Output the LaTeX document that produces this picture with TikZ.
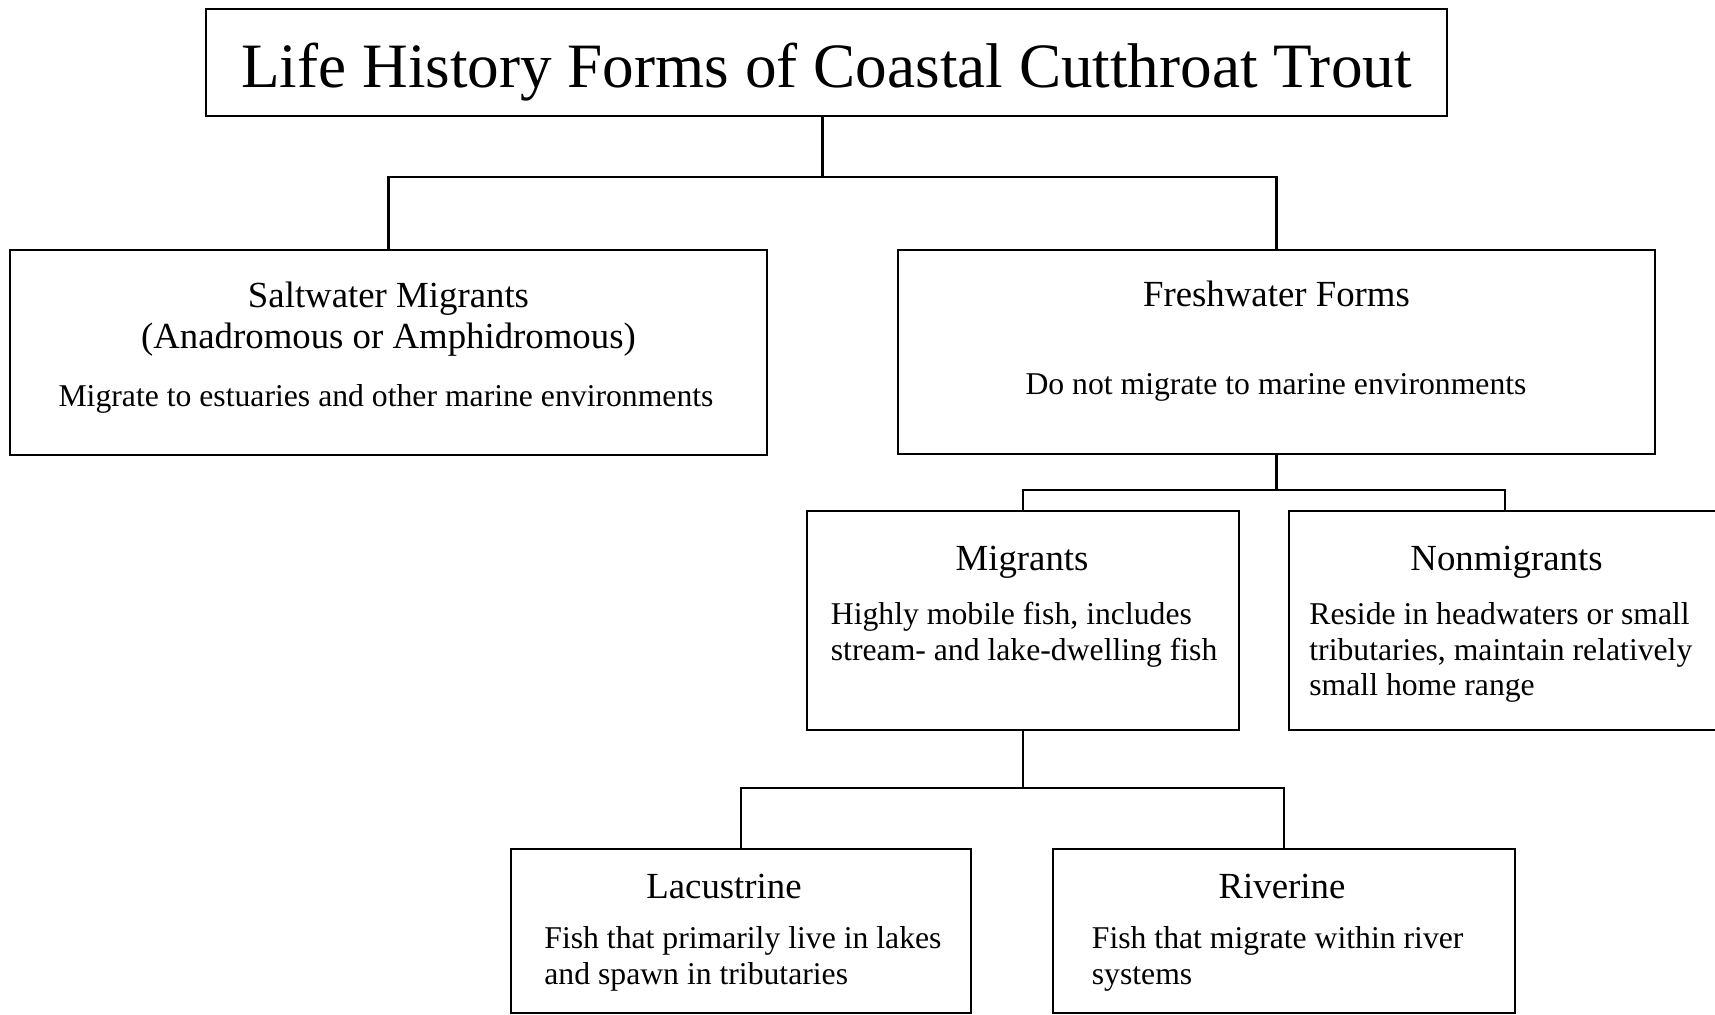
\documentclass[tikz,border=0pt]{standalone}
\usepackage{fontspec}
\setmainfont{Liberation Serif}
\usetikzlibrary{fit}
\tikzset{
  boxnode/.style={draw=black, line width=1.3pt, rectangle, inner sep=0pt},
  conn/.style={draw=black, line width=1.1pt},
  titletext/.style={inner sep=0pt, anchor=base, font=\fontsize{31.6pt}{36pt}\selectfont},
  headtext/.style={inner sep=0pt, anchor=base, font=\fontsize{18.4pt}{21pt}\selectfont},
  bodyc/.style={inner sep=0pt, anchor=base, font=\fontsize{15.85pt}{18pt}\selectfont},
  bodyl/.style={inner sep=0pt, anchor=base west, font=\fontsize{15.85pt}{18pt}\selectfont},
}
\begin{document}
\begin{tikzpicture}[x=0.5pt, y=-0.5pt]
\useasboundingbox (0,0) rectangle (1715,1015);
\fill[white] (0,0) rectangle (1715,1015);
\clip (0,0) rectangle (1715,1015);

% boxes
\node[boxnode, fit={(206,9) (1447,116)}] (title) {};
\node[boxnode, fit={(10,250) (767,455)}] (salt) {};
\node[boxnode, fit={(898,250) (1655,454)}] (fresh) {};
\node[boxnode, fit={(807,511) (1239,730)}] (mig) {};
\node[boxnode, fit={(1289,511) (1721,730)}] (non) {};
\node[boxnode, fit={(511,849) (971,1013)}] (lac) {};
\node[boxnode, fit={(1053,849) (1515,1013)}] (riv) {};

% connectors
\coordinate (j1) at (822.5,177);
\draw[conn] (title.south -| j1) -- (j1);
\draw[conn] (salt.north) |- (j1) -| (fresh.north);
\draw[conn] (fresh.south) -- ++(0,35) coordinate (j2);
\draw[conn] (mig.north) |- (j2) -| (non.north);
\draw[conn] (mig.south) -- ++(0,57) coordinate (j3);
\draw[conn] (lac.north) |- (j3) -| (riv.north);

% texts
\node[titletext] (t0) at (826.5,87.5) {Life History Forms of Coastal Cutthroat Trout};

\node[headtext] (s1) at (388.5,307.5) {Saltwater Migrants};
\node[headtext] (s2) at (388.5,348.5) {(Anadromous or Amphidromous)};
\node[bodyc] (s3) at (386,406.5) {Migrate to estuaries and other marine environments};

\node[headtext] (f1) at (1276.5,306.5) {Freshwater Forms};
\node[bodyc] (f2) at (1276,394.5) {Do not migrate to marine environments};

\node[headtext] (m1) at (1022,570.5) {Migrants};
\node[bodyl] (m2) at (830.5,625) {Highly mobile fish, includes};
\node[bodyl] (m3) at (830.5,660.5) {stream- and lake-dwelling fish};

\node[headtext] (n1) at (1506.5,570.5) {Nonmigrants};
\node[bodyl] (n2) at (1309,625) {Reside in headwaters or small};
\node[bodyl] (n3) at (1309,660.5) {tributaries, maintain relatively};
\node[bodyl] (n4) at (1309,696) {small home range};

\node[headtext] (l1) at (724,898.5) {Lacustrine};
\node[bodyl] (l2) at (544,948.5) {Fish that primarily live in lakes};
\node[bodyl] (l3) at (544,984) {and spawn in tributaries};

\node[headtext] (r1) at (1282,898.5) {Riverine};
\node[bodyl] (r2) at (1091.5,948.5) {Fish that migrate within river};
\node[bodyl] (r3) at (1091.5,984) {systems};
\end{tikzpicture}
\end{document}
